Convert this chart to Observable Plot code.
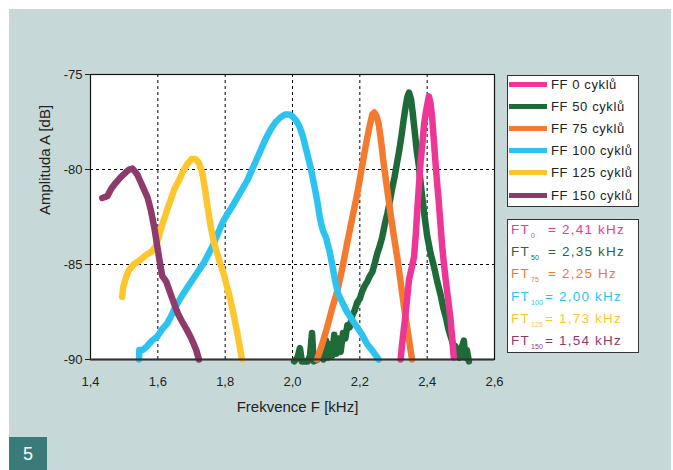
<!DOCTYPE html>
<html>
<head>
<meta charset="utf-8">
<script src="https://cdn.jsdelivr.net/npm/d3@7"></script>
<script src="https://cdn.jsdelivr.net/npm/@observablehq/plot@0.6"></script>
<style>
  html, body { margin: 0; padding: 0; background: #fff; }
  #page { position: relative; width: 673px; height: 470px; overflow: hidden; background: #fff;
          font-family: "Liberation Sans", Arial, Helvetica, sans-serif; }
  #panel { position: absolute; left: 9px; top: 9px; width: 662px; height: 461px; background: #c6d9d8; }
  #chart { position: absolute; left: 0; top: 0; }
  #num { position: absolute; left: 9px; top: 437px; width: 38px; height: 33px; background: #3a7b79;
         color: #fff; font-size: 18px; text-align: center; line-height: 35px; }
  .legend { position: absolute; background: #fff; border: 1px solid #333; box-sizing: border-box; }
  .row { position: absolute; left: 0; height: 22px; display: flex; align-items: center; white-space: nowrap; }
  .sw { width: 38px; height: 5px; margin-left: 1px; margin-right: 4px; }
  .ff { font-size: 13px; letter-spacing: 0.6px; color: #222; }
  .ft { font-size: 13.5px; letter-spacing: 1.2px; margin-left: 3px; }
  .ft .lab { display: inline-block; }
  .ft sub { font-size: 7px; letter-spacing: 0.2px; vertical-align: -4px; margin-left: 1px; }
</style>
</head>
<body>
<div id="page">
  <div id="panel"></div>
  <div id="chart"></div>
  <div id="num">5</div>
  <div class="legend" id="leg1" style="left:507px; top:75px; width:132px; height:132px;"></div>
  <div class="legend" id="leg2" style="left:507px; top:219px; width:132px; height:134px;"></div>
</div>
<script>
// Series names, colours and resonance frequencies
const seriesNames = ["FF 0 cyklů", "FF 50 cyklů", "FF 75 cyklů", "FF 100 cyklů", "FF 125 cyklů", "FF 150 cyklů"];
const seriesColors = ["#ee3697", "#1e6a38", "#f47a30", "#2cc3f0", "#fec62e", "#8e3a6c"];
const ftSubs = ["0", "50", "75", "100", "125", "150"];
const ftValues = ["2,41 kHz", "2,35 kHz", "2,25 Hz", "2,00 kHz", "1,73 kHz", "1,54 kHz"];
const xTicks = [1.4, 1.6, 1.8, 2.0, 2.2, 2.4, 2.6];
const yTicks = [-90, -85, -80, -75];

// [frequency kHz, amplitude dB]
const ff0 = [[2.321,-90.0],[2.328,-88.8],[2.336,-87.6],[2.346,-85.8],[2.355,-85.1],[2.361,-84.6],[2.366,-83.5],[2.370,-82.3],[2.375,-81.0],[2.380,-79.7],[2.386,-78.6],[2.391,-77.6],[2.397,-76.9],[2.405,-76.15],[2.410,-76.5],[2.415,-77.3],[2.420,-78.5],[2.425,-79.7],[2.430,-80.8],[2.435,-81.8],[2.440,-83.0],[2.445,-84.1],[2.450,-85.0],[2.455,-85.8],[2.462,-86.8],[2.469,-87.8],[2.474,-88.8],[2.479,-89.9]];
const ff50 = [[2.005,-90.1],[2.015,-89.9],[2.022,-89.4],[2.028,-90.1],[2.045,-90.1],[2.052,-89.8],[2.058,-88.6],[2.063,-90.1],[2.075,-90.0],[2.085,-89.5],[2.092,-90.0],[2.100,-89.0],[2.106,-89.9],[2.112,-89.2],[2.118,-89.8],[2.124,-88.7],[2.130,-89.7],[2.137,-88.9],[2.143,-89.6],[2.150,-88.6],[2.157,-88.9],[2.163,-88.2],[2.170,-88.3],[2.177,-87.7],[2.185,-87.4],[2.192,-87.0],[2.200,-86.8],[2.207,-86.4],[2.215,-86.1],[2.222,-85.9],[2.230,-85.6],[2.237,-85.4],[2.245,-84.9],[2.252,-84.4],[2.258,-84.1],[2.266,-83.6],[2.274,-82.9],[2.282,-82.3],[2.290,-81.6],[2.296,-81.0],[2.303,-80.4],[2.310,-79.7],[2.317,-79.0],[2.324,-78.2],[2.330,-77.4],[2.336,-76.7],[2.341,-76.2],[2.346,-75.95],[2.352,-76.3],[2.357,-77.0],[2.363,-78.0],[2.369,-79.0],[2.376,-79.9],[2.383,-81.1],[2.391,-82.3],[2.400,-83.5],[2.410,-84.4],[2.420,-85.1],[2.430,-85.9],[2.440,-86.6],[2.448,-87.3],[2.456,-87.8],[2.463,-88.4],[2.470,-88.8],[2.477,-89.2],[2.484,-89.3],[2.490,-89.6],[2.496,-89.9],[2.502,-89.4],[2.509,-89.0],[2.513,-89.9],[2.518,-89.5],[2.524,-90.1]];
const ff75 = [[2.073,-90.0],[2.088,-89.2],[2.103,-88.3],[2.118,-87.3],[2.133,-86.4],[2.148,-85.2],[2.162,-83.9],[2.177,-82.6],[2.192,-81.3],[2.205,-80.0],[2.217,-78.8],[2.228,-77.8],[2.237,-77.1],[2.243,-77.0],[2.250,-77.2],[2.256,-77.6],[2.263,-78.5],[2.271,-79.7],[2.281,-81.0],[2.291,-82.3],[2.301,-83.5],[2.311,-84.6],[2.321,-85.9],[2.331,-87.2],[2.343,-88.6],[2.355,-90.0]];
const ff100 = [[1.544,-90.0],[1.545,-89.5],[1.555,-89.5],[1.568,-89.3],[1.583,-89.0],[1.598,-88.8],[1.613,-88.4],[1.628,-88.1],[1.640,-87.7],[1.650,-87.3],[1.663,-86.9],[1.677,-86.5],[1.692,-86.1],[1.707,-85.7],[1.722,-85.3],[1.737,-84.9],[1.752,-84.4],[1.766,-83.9],[1.780,-83.3],[1.792,-82.8],[1.808,-82.3],[1.826,-81.8],[1.845,-81.2],[1.865,-80.6],[1.885,-79.8],[1.905,-79.0],[1.920,-78.4],[1.935,-77.9],[1.950,-77.5],[1.965,-77.25],[1.978,-77.1],[1.990,-77.1],[2.000,-77.2],[2.010,-77.4],[2.020,-77.7],[2.030,-78.2],[2.040,-78.9],[2.047,-79.4],[2.054,-79.9],[2.063,-80.7],[2.073,-81.6],[2.082,-82.6],[2.090,-83.2],[2.100,-83.6],[2.110,-84.3],[2.118,-85.0],[2.126,-85.8],[2.135,-86.5],[2.148,-87.0],[2.162,-87.5],[2.177,-87.9],[2.192,-88.3],[2.207,-88.7],[2.222,-89.2],[2.240,-89.6],[2.256,-90.0]];
const ff125 = [[1.494,-86.7],[1.497,-86.2],[1.505,-85.7],[1.514,-85.3],[1.528,-85.0],[1.545,-84.8],[1.565,-84.5],[1.583,-84.3],[1.595,-84.0],[1.605,-83.4],[1.615,-82.8],[1.628,-82.1],[1.640,-81.5],[1.650,-81.0],[1.662,-80.6],[1.675,-80.1],[1.688,-79.7],[1.700,-79.45],[1.712,-79.45],[1.722,-79.65],[1.732,-80.2],[1.740,-81.0],[1.748,-82.0],[1.757,-83.0],[1.766,-83.8],[1.776,-84.4],[1.786,-85.0],[1.796,-85.5],[1.806,-86.2],[1.816,-86.9],[1.826,-87.7],[1.836,-88.6],[1.843,-89.3],[1.850,-90.0]];
const ff150 = [[1.435,-81.5],[1.450,-81.4],[1.462,-81.0],[1.475,-80.7],[1.490,-80.4],[1.505,-80.15],[1.515,-80.0],[1.524,-79.95],[1.532,-80.1],[1.540,-80.3],[1.550,-80.7],[1.560,-81.1],[1.570,-81.5],[1.580,-82.2],[1.590,-83.1],[1.598,-84.0],[1.606,-84.9],[1.613,-85.6],[1.625,-85.9],[1.635,-86.4],[1.647,-87.0],[1.660,-87.6],[1.672,-88.0],[1.685,-88.4],[1.697,-88.8],[1.707,-89.2],[1.714,-89.5],[1.722,-90.0]];

const seriesData = [ff0, ff50, ff75, ff100, ff125, ff150];
// drawing order (pink on top)
const drawOrder = [1, 2, 3, 4, 5, 0];
const rows = drawOrder.flatMap(i => seriesData[i].map(([f, a]) => ({f, a, s: seriesNames[i]})));

const fmtX = d => d.toFixed(1).replace(".", ",");

const chart = Plot.plot({
  width: 673,
  height: 470,
  marginLeft: 90,
  marginRight: 179,
  marginTop: 74,
  marginBottom: 111,
  style: { background: "transparent", fontFamily: "'Liberation Sans', Arial, sans-serif", overflow: "visible" },
  x: { domain: [1.4, 2.6] },
  y: { domain: [-90, -75] },
  color: { domain: seriesNames, range: seriesColors },
  marks: [
    Plot.frame({ fill: "#fff" }),
    Plot.gridX({ ticks: [1.6, 1.8, 2.0, 2.2, 2.4], stroke: "#000", strokeOpacity: 1, strokeWidth: 1, strokeDasharray: "3,3" }),
    Plot.gridY({ ticks: [-85, -80], stroke: "#000", strokeOpacity: 1, strokeWidth: 1, strokeDasharray: "3,3" }),
    Plot.axisY({ ticks: yTicks, tickSize: 5, tickPadding: 3, tickFormat: d => String(d), label: null,
                 fontSize: 13, color: "#222" }),
    Plot.axisX({ ticks: xTicks, tickSize: 0, tickPadding: 17, tickFormat: fmtX, label: null,
                 fontSize: 13, color: "#222", style: { letterSpacing: "0.5px" } }),
    Plot.text(["Frekvence F [kHz]"], { frameAnchor: "bottom", dy: 52.5, dx: 5, fontSize: 15, fill: "#222" }),
    Plot.text(["Amplituda A [dB]"], { frameAnchor: "left", dx: -45, dy: -2, rotate: -90, fontSize: 15, fill: "#222",
                                      style: { letterSpacing: "0.35px" } }),
    Plot.line(rows, { x: "f", y: "a", z: "s", stroke: "s", strokeWidth: 6.5, strokeLinejoin: "round", strokeLinecap: "round" }),
    Plot.frame({ stroke: "#111", strokeWidth: 1.2 }),
    Plot.ruleY([-90], { stroke: "#333", strokeWidth: 2 })
  ]
});
document.getElementById("chart").appendChild(chart);

// Legend 1: series
const leg1 = document.getElementById("leg1");
seriesNames.forEach((name, i) => {
  const r = document.createElement("div");
  r.className = "row";
  r.style.top = (-3 + 22.2 * i) + "px";
  r.innerHTML = `<div class="sw" style="background:${seriesColors[i]}"></div><span class="ff">${name}</span>`;
  leg1.appendChild(r);
});

// Legend 2: resonance frequencies
const leg2 = document.getElementById("leg2");
ftSubs.forEach((sub, i) => {
  const r = document.createElement("div");
  r.className = "row";
  r.style.top = (-1 + 22.35 * i) + "px";
  const w = sub.length > 2 ? 34 : 37;
  r.innerHTML = `<span class="ft" style="color:${seriesColors[i]}"><span class="lab" style="width:${w}px">FT<sub>${sub}</sub></span>= ${ftValues[i]}</span>`;
  leg2.appendChild(r);
});
</script>
</body>
</html>
